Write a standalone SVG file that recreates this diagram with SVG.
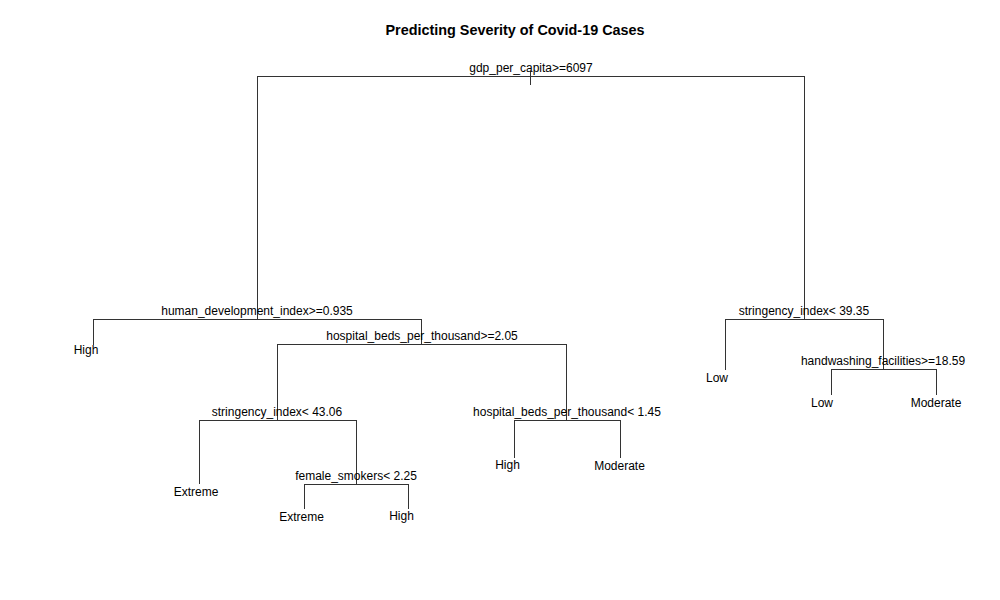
<svg xmlns="http://www.w3.org/2000/svg" width="1000" height="600" viewBox="0 0 1000 600">
<style>
.t{font-family:"Liberation Sans",Arial,sans-serif;font-size:12px;fill:#000;text-anchor:middle}
.title{font-family:"Liberation Sans",Arial,sans-serif;font-size:14.4px;font-weight:bold;fill:#000;text-anchor:middle}
.e{fill:none;stroke:#333;stroke-width:1;shape-rendering:crispEdges}
</style>
<rect width="1000" height="600" fill="#fff"/>
<text class="title" x="515" y="35">Predicting Severity of Covid-19 Cases</text>
<g id="connectors">
<path class="e" d="M530.5 71V85"/>
<path class="e" d="M257.5 319V76.5H804.5V319"/>
<path class="e" d="M93.5 345V319.5H421.5V344"/>
<path class="e" d="M277.5 420V344.5H566.5V420"/>
<path class="e" d="M199.5 484V420.5H356.5V484"/>
<path class="e" d="M304.5 509V484.5H408.5V509"/>
<path class="e" d="M514.5 458V420.5H620.5V458"/>
<path class="e" d="M725.5 370V319.5H883.5V369"/>
<path class="e" d="M831.5 395V369.5H936.5V395"/>
</g>
<g id="n_gdp"><text class="t" x="531" y="72">gdp_per_capita&gt;=6097</text></g>
<g id="n_hdi"><text class="t" x="257" y="315">human_development_index&gt;=0.935</text></g>
<g id="n_hosp1"><text class="t" x="422" y="340">hospital_beds_per_thousand&gt;=2.05</text></g>
<g id="n_str1"><text class="t" x="277" y="416">stringency_index&lt; 43.06</text></g>
<g id="n_fem"><text class="t" x="356" y="480">female_smokers&lt; 2.25</text></g>
<g id="n_hosp2"><text class="t" x="567" y="416">hospital_beds_per_thousand&lt; 1.45</text></g>
<g id="n_str2"><text class="t" x="804" y="315">stringency_index&lt; 39.35</text></g>
<g id="n_hand"><text class="t" x="883" y="365">handwashing_facilities&gt;=18.59</text></g>
<g id="l_high1"><text class="t" x="86" y="354">High</text></g>
<g id="l_ext1"><text class="t" x="196" y="496">Extreme</text></g>
<g id="l_ext2"><text class="t" x="301.5" y="521">Extreme</text></g>
<g id="l_high2"><text class="t" x="401.5" y="520">High</text></g>
<g id="l_high3"><text class="t" x="507.5" y="469">High</text></g>
<g id="l_mod1"><text class="t" x="619.5" y="470">Moderate</text></g>
<g id="l_low1"><text class="t" x="717" y="382">Low</text></g>
<g id="l_low2"><text class="t" x="822" y="407">Low</text></g>
<g id="l_mod2"><text class="t" x="936" y="407">Moderate</text></g>
</svg>
